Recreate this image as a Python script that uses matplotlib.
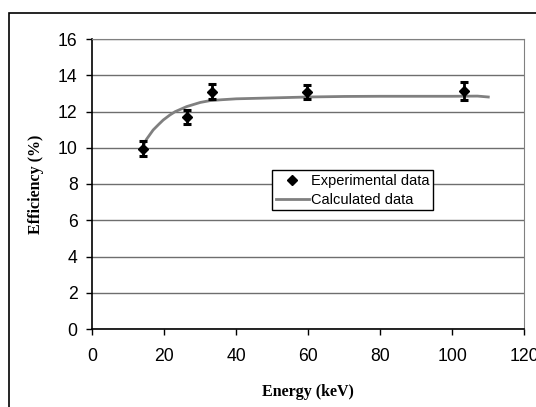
import matplotlib.pyplot as plt
from matplotlib.patches import Rectangle


# measured points (keV, %)
energy_exp = [14.0, 26.2, 33.2, 59.7, 103.3]
eff_exp = [9.95, 11.68, 13.1, 13.08, 13.15]
eff_err = [0.42, 0.38, 0.43, 0.40, 0.50]

# calculated efficiency curve
energy_calc = [13.7, 15.0, 16.9, 18.5, 19.7, 21.5, 23.0, 26.2, 30.0, 32.7, 36.0, 40.0,
               50.0, 60.0, 70.0, 80.0, 90.0, 100.0, 107.0, 110.0]
eff_calc = [9.9, 10.45, 10.98, 11.3, 11.53, 11.8, 11.99, 12.27, 12.5, 12.6, 12.65, 12.7,
            12.75, 12.8, 12.83, 12.84, 12.84, 12.84, 12.85, 12.8]

x_ticks = [0, 20, 40, 60, 80, 100, 120]
y_ticks = [0, 2, 4, 6, 8, 10, 12, 14, 16]


def main():
    W, H = 536, 407
    fig = plt.figure(figsize=(W / 100, H / 100), dpi=100)

    # outer chart frame (cut by the image edge on right and bottom)
    fig.patches.append(Rectangle((8.5 / W, -0.05), 1.1, 1 - 12.5 / H + 0.05,
                                 transform=fig.transFigure, fill=False,
                                 edgecolor='black', linewidth=1.2))

    ax = fig.add_axes([92.3 / W, 78 / H, 432 / W, 290 / H])

    ax.plot(energy_calc, eff_calc, color='#808080', linewidth=2,
            label='Calculated data', zorder=3)
    ax.errorbar(energy_exp, eff_exp, yerr=eff_err, fmt='none', ecolor='black',
                elinewidth=2, capsize=3.2, capthick=2.2, zorder=4)
    ax.plot(energy_exp, eff_exp, 'D', color='black', markersize=5.5,
            label='Experimental data', zorder=5)

    ax.set_xlim(0, 120)
    ax.set_ylim(0, 16)
    ax.set_xticks(x_ticks)
    ax.set_yticks(y_ticks)

    ax.yaxis.grid(True, color='#6e6e6e', linewidth=1)
    ax.set_axisbelow(True)

    for s in ['top', 'right']:
        ax.spines[s].set_color('#808080')
    for s in ['left', 'bottom']:
        ax.spines[s].set_color('black')
        ax.spines[s].set_linewidth(1.2)

    ax.tick_params(axis='both', direction='out', length=4, width=1, colors='black',
                   labelsize=12.7, labelfontfamily='Liberation Sans')
    ax.tick_params(axis='x', pad=10)
    ax.tick_params(axis='y', pad=6.5)

    ax.set_xlabel('Energy (keV)', family='Liberation Serif', fontweight='bold',
                  fontsize=11.5)
    ax.set_ylabel('Efficiency (%)', family='Liberation Serif', fontweight='bold',
                  fontsize=11.5)
    ax.xaxis.set_label_coords(0.5, -(384 - 329) / 290)
    ax.yaxis.set_label_coords(-(92.3 - 44) / 432, 0.5)

    handles, labels = ax.get_legend_handles_labels()
    leg = ax.legend(handles[::-1], labels[::-1], loc='upper left',
                    bbox_to_anchor=((272 - 92.3) / 432, (329 - 170) / 290),
                    prop={'family': 'Liberation Sans', 'size': 10.5},
                    frameon=True, fancybox=False, framealpha=1, edgecolor='black',
                    borderaxespad=0, borderpad=0.25, labelspacing=0.35,
                    handlelength=2.3, handletextpad=0.1)
    leg.get_frame().set_linewidth(1)

    fig.savefig('out.png', dpi=100)


if __name__ == '__main__':
    main()
